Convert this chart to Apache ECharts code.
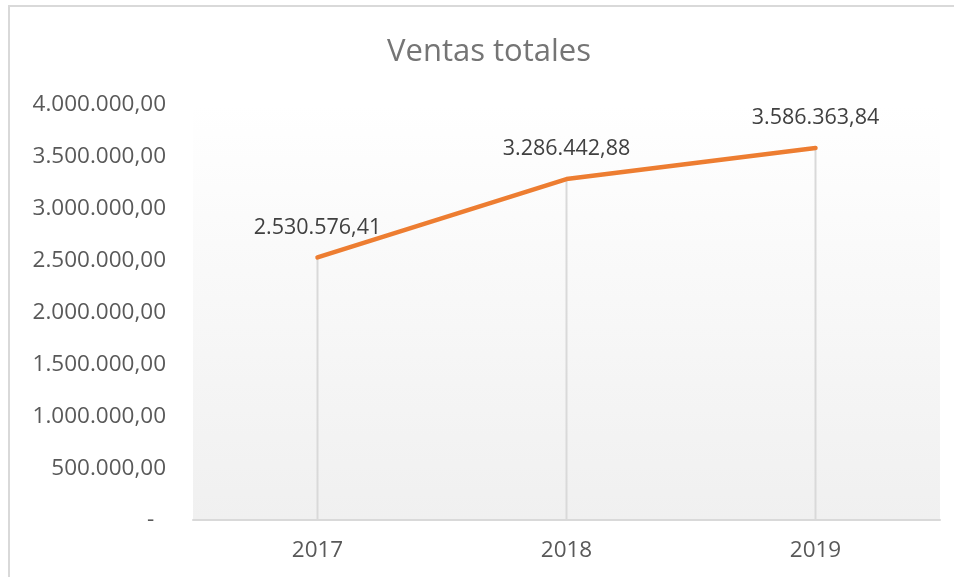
<!DOCTYPE html>
<html>
<head>
<meta charset="utf-8">
<script src="https://cdn.jsdelivr.net/npm/echarts@6/dist/echarts.min.js"></script>
<style>
  html, body { margin: 0; padding: 0; background: #fff; }
  #chart { width: 954px; height: 577px; }
</style>
</head>
<body>
<div id="chart"></div>
<script>
// datos del gráfico
const years = ['2017', '2018', '2019'];
const ventas = [2530576.41, 3286442.88, 3586363.84];
const yMin = 0;
const yMax = 4000000;
const yStep = 500000;

// formato español: 1.234.567,89
function fmt(v) {
  const parts = v.toFixed(2).split('.');
  const ent = parts[0].replace(/\B(?=(\d{3})+(?!\d))/g, '.');
  return ent + ',' + parts[1];
}

const chart = echarts.init(document.getElementById('chart'));
const font = 'Open Sans';

const option = {
  backgroundColor: '#fff',
  animation: false,
  textStyle: { fontFamily: font },
  title: {
    text: 'Ventas totales',
    left: 382,
    top: 32,
    textStyle: { fontFamily: font, fontSize: 31, fontWeight: 'normal', color: '#757575' }
  },
  graphic: [{
    type: 'rect',
    shape: { x: 9, y: 6, width: 1000, height: 700 },
    style: { fill: 'none', stroke: '#d9d9d9', lineWidth: 2 },
    silent: true
  }],
  grid: {
    left: 193,
    right: 14,
    top: 105,
    bottom: 57,
    show: true,
    borderWidth: 0,
    backgroundColor: new echarts.graphic.LinearGradient(0, 0, 0, 1, [
      { offset: 0, color: '#ffffff' },
      { offset: 1, color: '#f0f0f0' }
    ])
  },
  xAxis: {
    type: 'category',
    data: years,
    boundaryGap: true,
    axisLine: { lineStyle: { color: '#d9d9d9', width: 2 } },
    axisTick: { show: false },
    axisLabel: { fontFamily: font, fontSize: 22.5, color: '#595959', margin: 19 }
  },
  yAxis: {
    type: 'value',
    min: yMin,
    max: yMax,
    interval: yStep,
    axisLine: { show: false },
    axisTick: { show: false },
    splitLine: { show: false },
    axisLabel: {
      fontFamily: font,
      fontSize: 22.5,
      color: '#595959',
      margin: 27,
      formatter: v => (v === 0 ? '-  ' : fmt(v))
    }
  },
  series: [
    {
      // líneas de caída
      type: 'bar',
      data: ventas,
      barWidth: 2,
      itemStyle: { color: '#d9d9d9' },
      silent: true,
      z: 1
    },
    {
      type: 'line',
      data: ventas,
      symbol: 'circle',
      symbolSize: 0,
      showSymbol: true,
      itemStyle: { color: '#ED7D31' },
      lineStyle: { color: '#ED7D31', width: 4.5, cap: 'round' },
      z: 3,
      label: {
        show: true,
        position: 'top',
        distance: 19,
        fontFamily: font,
        fontSize: 21.5,
        color: '#404040',
        formatter: p => fmt(p.value)
      }
    }
  ]
};

chart.setOption(option);
</script>
</body>
</html>
